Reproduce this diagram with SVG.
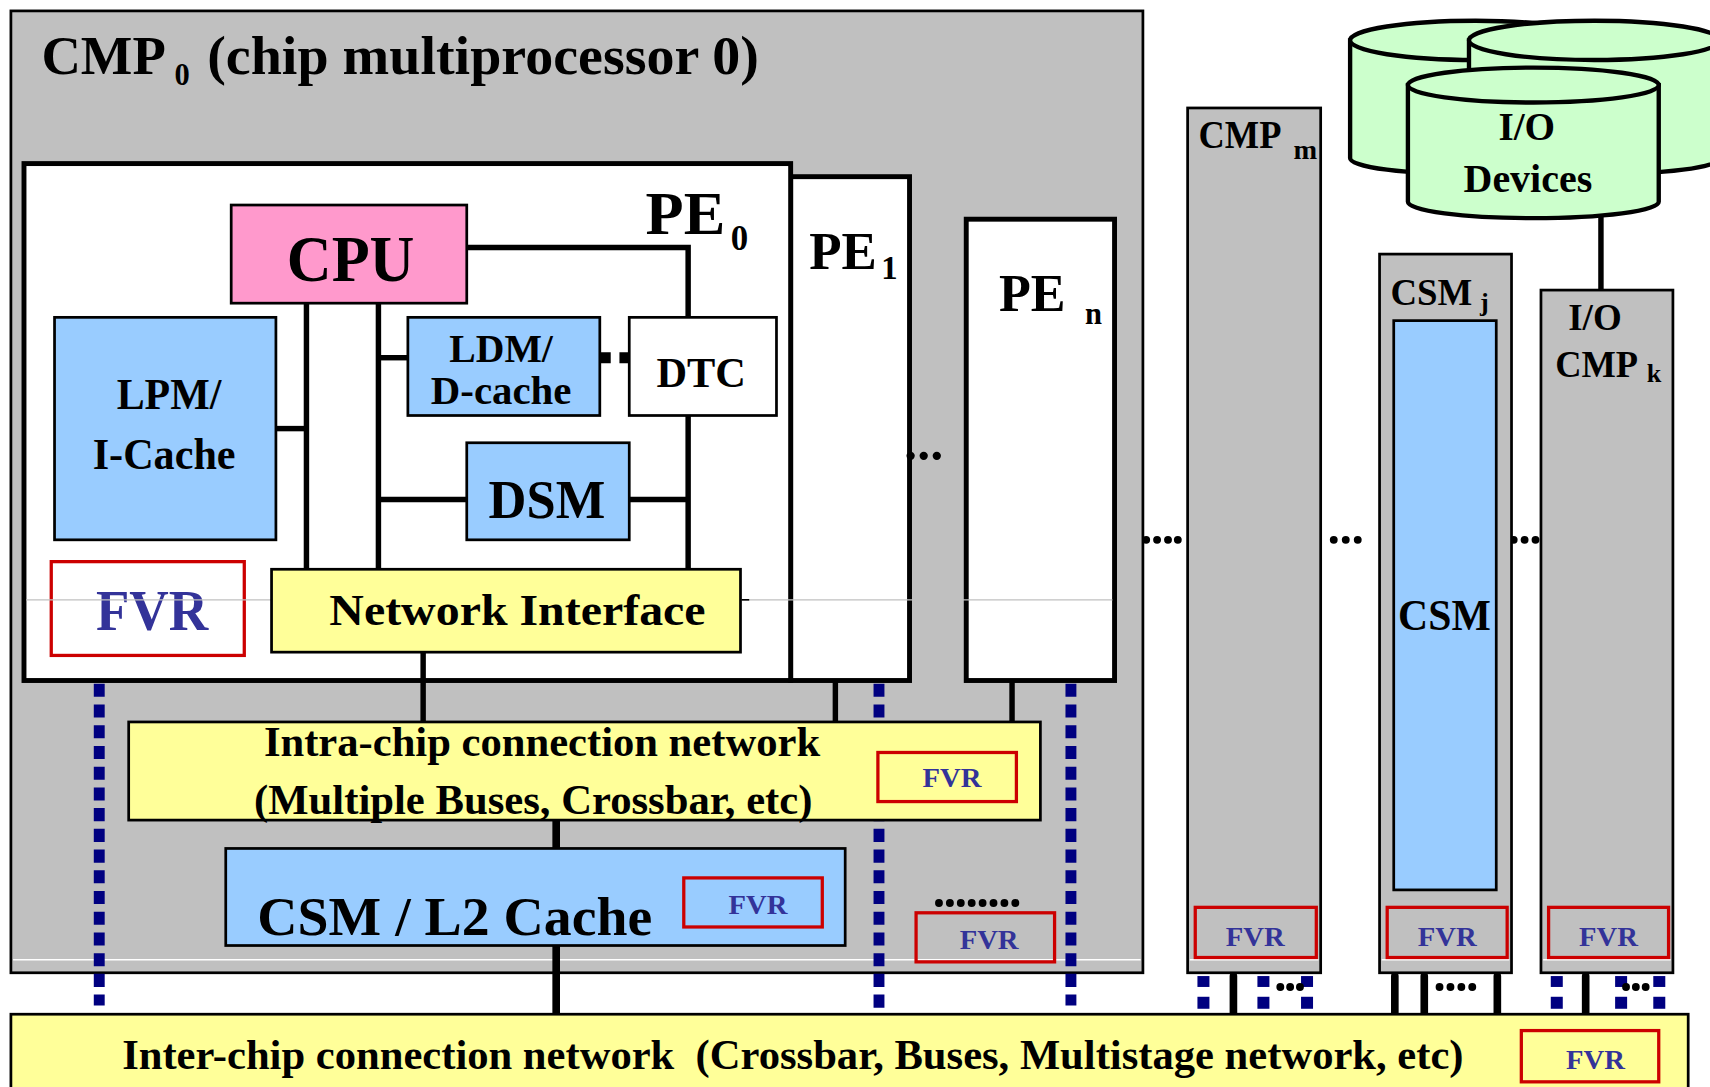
<svg xmlns="http://www.w3.org/2000/svg" width="1710" height="1087" viewBox="0 0 1710 1087">
<style>
.t{font-family:"Liberation Serif","Times New Roman",serif;font-weight:bold;fill:#000}
.f{fill:#333399}
.bx{stroke:#000;stroke-width:2.5}
.thick{stroke:#000;stroke-width:4.5}
.gray{fill:#c0c0c0}
.blue{fill:#99ccff}
.yel{fill:#ffff99}
.wh{fill:#fff}
.red{fill:none;stroke:#cc0000;stroke-width:3}
.bus{stroke:#000;stroke-width:5;fill:none}
.stub{stroke:#000;stroke-width:7;stroke-linecap:round;fill:none}
.dash{stroke:#000080;stroke-width:10;stroke-dasharray:12 7;fill:none}
.sq{fill:#000080}
.dot{fill:#000}
.disk{fill:#ccffcc;stroke:#000;stroke-width:4}
</style>
<rect width="1710" height="1087" fill="#fff"/>
<g transform="scale(1.090561)">
<g id="cmp0">
<rect x="10" y="10" width="1038" height="882" class="gray bx"/>
<line x1="12" y1="880" x2="1046" y2="880" stroke="#fff" stroke-width="1.5"/>
<text class="t" x="38" y="68" font-size="50" textLength="114" lengthAdjust="spacingAndGlyphs">CMP</text>
<text class="t" x="160" y="78" font-size="28">0</text>
<text class="t" x="190" y="68" font-size="50" textLength="506" lengthAdjust="spacingAndGlyphs">(chip multiprocessor 0)</text>
</g>
<g id="pe1">
<rect x="725" y="162" width="109" height="462" class="wh thick"/>
<text class="t" x="742" y="247" font-size="48" textLength="62" lengthAdjust="spacingAndGlyphs">PE</text>
<text class="t" x="808" y="256" font-size="30">1</text>
</g>
<g id="pen">
<rect x="886" y="201" width="136" height="423" class="wh thick"/>
<text class="t" x="916" y="285" font-size="48" textLength="61" lengthAdjust="spacingAndGlyphs">PE</text>
<text class="t" x="995" y="297" font-size="28">n</text>
</g>
<g id="pe0">
<rect x="22" y="150" width="703" height="474" class="wh thick"/>
<text class="t" x="592" y="215" font-size="56" textLength="73" lengthAdjust="spacingAndGlyphs">PE</text>
<text class="t" x="670" y="229" font-size="32">0</text>
</g>
<g id="fvr-pe0">
<rect x="47" y="515" width="177" height="86" fill="#fff" stroke="#cc0000" stroke-width="3"/>
<text class="t f" x="88" y="578" font-size="52" textLength="103" lengthAdjust="spacingAndGlyphs">FVR</text>
</g>
<line x1="24" y1="550" x2="1020" y2="550" stroke="#c0c0c0" stroke-width="1.2"/>
<line x1="680" y1="550" x2="687" y2="550" stroke="#000" stroke-width="1.5"/>
<g id="connectors">
<polyline class="bus" points="428,227 631,227 631,291"/>
<line class="bus" x1="281" y1="278" x2="281" y2="522"/>
<line class="bus" x1="253" y1="393" x2="281" y2="393"/>
<line class="bus" x1="347" y1="278" x2="347" y2="522"/>
<line class="bus" x1="347" y1="328" x2="374" y2="328"/>
<line x1="550" y1="328" x2="577" y2="328" stroke="#000" stroke-width="10" stroke-dasharray="10 8 9"/>
<line class="bus" x1="347" y1="458" x2="428" y2="458"/>
<line class="bus" x1="577" y1="458" x2="631" y2="458"/>
<line class="bus" x1="631" y1="381" x2="631" y2="522"/>
<line class="bus" x1="388" y1="598" x2="388" y2="662"/>
<line class="bus" x1="766" y1="624" x2="766" y2="662"/>
<line class="bus" x1="928" y1="624" x2="928" y2="662"/>
<line class="stub" x1="510" y1="752" x2="510" y2="778"/>
<line class="stub" x1="510" y1="867" x2="510" y2="929"/>
<line class="dash" x1="91" y1="627" x2="91" y2="922"/>
<line class="dash" x1="806" y1="627" x2="806" y2="930"/>
<line class="dash" x1="982" y1="627" x2="982" y2="922"/>
<line class="bus" x1="1468" y1="199" x2="1468" y2="266"/>
<line class="stub" x1="1131" y1="895" x2="1131" y2="929"/>
<line class="stub" x1="1279" y1="895" x2="1279" y2="929"/>
<line class="stub" x1="1306" y1="895" x2="1306" y2="929"/>
<line class="stub" x1="1373" y1="895" x2="1373" y2="929"/>
<line class="stub" x1="1454" y1="895" x2="1454" y2="929"/>
<g class="sq">
<rect x="1098" y="895" width="11" height="10"/><rect x="1098" y="914" width="11" height="11"/>
<rect x="1153" y="895" width="11" height="10"/><rect x="1153" y="914" width="11" height="11"/>
<rect x="1193" y="895" width="11" height="10"/><rect x="1193" y="914" width="11" height="11"/>
<rect x="1422" y="895" width="11" height="10"/><rect x="1422" y="914" width="11" height="11"/>
<rect x="1481" y="895" width="11" height="10"/><rect x="1481" y="914" width="11" height="11"/>
<rect x="1516" y="895" width="11" height="10"/><rect x="1516" y="914" width="11" height="11"/>
</g>
</g>
<g id="cpu">
<rect x="212" y="188" width="216" height="90" fill="#ff99cc" class="bx"/>
<text class="t" x="263" y="258" font-size="60" textLength="117" lengthAdjust="spacingAndGlyphs">CPU</text>
</g>
<g id="lpm">
<rect x="50" y="291" width="203" height="204" class="blue bx"/>
<text class="t" x="107" y="375" font-size="40" textLength="96" lengthAdjust="spacingAndGlyphs">LPM/</text>
<text class="t" x="85" y="430" font-size="40" textLength="131" lengthAdjust="spacingAndGlyphs">I-Cache</text>
</g>
<g id="ldm">
<rect x="374" y="291" width="176" height="90" class="blue bx"/>
<text class="t" x="412" y="332" font-size="36" textLength="95" lengthAdjust="spacingAndGlyphs">LDM/</text>
<text class="t" x="395" y="370" font-size="36" textLength="129" lengthAdjust="spacingAndGlyphs">D-cache</text>
</g>
<g id="dtc">
<rect x="577" y="291" width="135" height="90" class="wh bx"/>
<text class="t" x="602" y="355" font-size="38" textLength="82" lengthAdjust="spacingAndGlyphs">DTC</text>
</g>
<g id="dsm">
<rect x="428" y="406" width="149" height="89" class="blue bx"/>
<text class="t" x="448" y="475" font-size="50" textLength="107" lengthAdjust="spacingAndGlyphs">DSM</text>
</g>
<g id="ni">
<rect x="249" y="522" width="430" height="76" class="yel bx"/>
<text class="t" x="302" y="573" font-size="40" textLength="345" lengthAdjust="spacingAndGlyphs">Network Interface</text>
</g>
<g id="intra">
<rect x="118" y="662" width="836" height="90" class="yel bx"/>
<text class="t" x="242" y="693" font-size="38" textLength="510" lengthAdjust="spacingAndGlyphs">Intra-chip connection network</text>
<text class="t" x="233" y="746" font-size="38" textLength="512" lengthAdjust="spacingAndGlyphs">(Multiple Buses, Crossbar, etc)</text>
<rect x="805" y="690" width="127" height="45" class="red"/>
<text class="t f" x="846" y="722" font-size="26" textLength="54" lengthAdjust="spacingAndGlyphs">FVR</text>
</g>
<g id="csm-l2">
<rect x="207" y="778" width="568" height="89" class="blue bx"/>
<text class="t" x="236" y="857" font-size="50" textLength="362" lengthAdjust="spacingAndGlyphs">CSM / L2 Cache</text>
<rect x="627" y="805" width="127" height="45" class="red"/>
<text class="t f" x="668" y="838" font-size="26" textLength="54" lengthAdjust="spacingAndGlyphs">FVR</text>
</g>
<g id="fvr-more">
<g class="dot"><circle cx="861" cy="828" r="3.6"/><circle cx="871" cy="828" r="3.6"/><circle cx="881" cy="828" r="3.6"/><circle cx="891" cy="828" r="3.6"/><circle cx="901" cy="828" r="3.6"/><circle cx="911" cy="828" r="3.6"/><circle cx="921" cy="828" r="3.6"/><circle cx="931" cy="828" r="3.6"/></g>
<rect x="840" y="837" width="127" height="45" class="red"/>
<text class="t f" x="880" y="870" font-size="26" textLength="54" lengthAdjust="spacingAndGlyphs">FVR</text>
</g>
<g id="ellipses" class="dot">
<circle cx="835" cy="418" r="3.8"/><circle cx="847" cy="418" r="3.8"/><circle cx="859" cy="418" r="3.8"/>
<circle cx="1051" cy="495" r="3.6"/><circle cx="1061" cy="495" r="3.6"/><circle cx="1071" cy="495" r="3.6"/><circle cx="1080" cy="495" r="3.6"/>
<circle cx="1223" cy="495" r="3.6"/><circle cx="1234" cy="495" r="3.6"/><circle cx="1245" cy="495" r="3.6"/>
<circle cx="1388" cy="495" r="3.6"/><circle cx="1398" cy="495" r="3.6"/><circle cx="1408" cy="495" r="3.6"/>
<circle cx="1174" cy="905" r="3.6"/><circle cx="1183" cy="905" r="3.6"/><circle cx="1192" cy="905" r="3.6"/>
<circle cx="1320" cy="905" r="3.6"/><circle cx="1330" cy="905" r="3.6"/><circle cx="1340" cy="905" r="3.6"/><circle cx="1350" cy="905" r="3.6"/>
<circle cx="1491" cy="905" r="3.6"/><circle cx="1500" cy="905" r="3.6"/><circle cx="1509" cy="905" r="3.6"/>
</g>
<g id="cmpm">
<rect x="1089" y="99" width="122" height="793" class="gray bx"/>
<line x1="1091" y1="880" x2="1209" y2="880" stroke="#fff" stroke-width="1.5"/>
<text class="t" x="1099" y="136" font-size="36" textLength="76" lengthAdjust="spacingAndGlyphs">CMP</text>
<text class="t" x="1186" y="146" font-size="26">m</text>
<rect x="1096" y="832" width="111" height="46" class="red"/>
<text class="t f" x="1124" y="867" font-size="26" textLength="54" lengthAdjust="spacingAndGlyphs">FVR</text>
</g>
<g id="csmj">
<rect x="1265" y="233" width="121" height="659" class="gray bx"/>
<line x1="1267" y1="880" x2="1384" y2="880" stroke="#fff" stroke-width="1.5"/>
<text class="t" x="1275" y="280" font-size="34" textLength="75" lengthAdjust="spacingAndGlyphs">CSM</text>
<text class="t" x="1357" y="285" font-size="24">j</text>
<rect x="1278" y="294" width="94" height="522" class="blue bx"/>
<text class="t" x="1282" y="578" font-size="40" textLength="85" lengthAdjust="spacingAndGlyphs">CSM</text>
<rect x="1272" y="832" width="110" height="46" class="red"/>
<text class="t f" x="1300" y="867" font-size="26" textLength="54" lengthAdjust="spacingAndGlyphs">FVR</text>
</g>
<g id="iocmp">
<rect x="1413" y="266" width="121" height="626" class="gray bx"/>
<line x1="1415" y1="880" x2="1532" y2="880" stroke="#fff" stroke-width="1.5"/>
<text class="t" x="1438" y="303" font-size="34" textLength="49" lengthAdjust="spacingAndGlyphs">I/O</text>
<text class="t" x="1426" y="346" font-size="34" textLength="76" lengthAdjust="spacingAndGlyphs">CMP</text>
<text class="t" x="1510" y="350" font-size="24">k</text>
<rect x="1420" y="832" width="110" height="46" class="red"/>
<text class="t f" x="1448" y="867" font-size="26" textLength="54" lengthAdjust="spacingAndGlyphs">FVR</text>
</g>
<g id="io-devices">
<path class="disk" d="M1238,37 L1238,145 A115,15 0 0 0 1468,145 L1468,37 Z"/>
<ellipse class="disk" cx="1353" cy="37" rx="115" ry="18"/>
<path class="disk" d="M1347,37 L1347,145 A115,15 0 0 0 1577,145 L1577,37 Z"/>
<ellipse class="disk" cx="1462" cy="37" rx="115" ry="18"/>
<path class="disk" d="M1291,78 L1291,185 A115,15 0 0 0 1521,185 L1521,78 Z"/>
<ellipse class="disk" cx="1406" cy="78" rx="115" ry="16"/>
<text class="t" x="1374" y="128" font-size="36" textLength="52" lengthAdjust="spacingAndGlyphs">I/O</text>
<text class="t" x="1342" y="176" font-size="36" textLength="118" lengthAdjust="spacingAndGlyphs">Devices</text>
</g>
<g id="inter">
<rect x="10" y="930" width="1538" height="80" class="yel bx"/>
<text class="t" x="112" y="980" font-size="38" textLength="1230" lengthAdjust="spacingAndGlyphs" xml:space="preserve">Inter-chip connection network  (Crossbar, Buses, Multistage network, etc)</text>
<rect x="1395" y="945" width="126" height="47" class="red"/>
<text class="t f" x="1436" y="980" font-size="26" textLength="54" lengthAdjust="spacingAndGlyphs">FVR</text>
</g>
</g>
</svg>
